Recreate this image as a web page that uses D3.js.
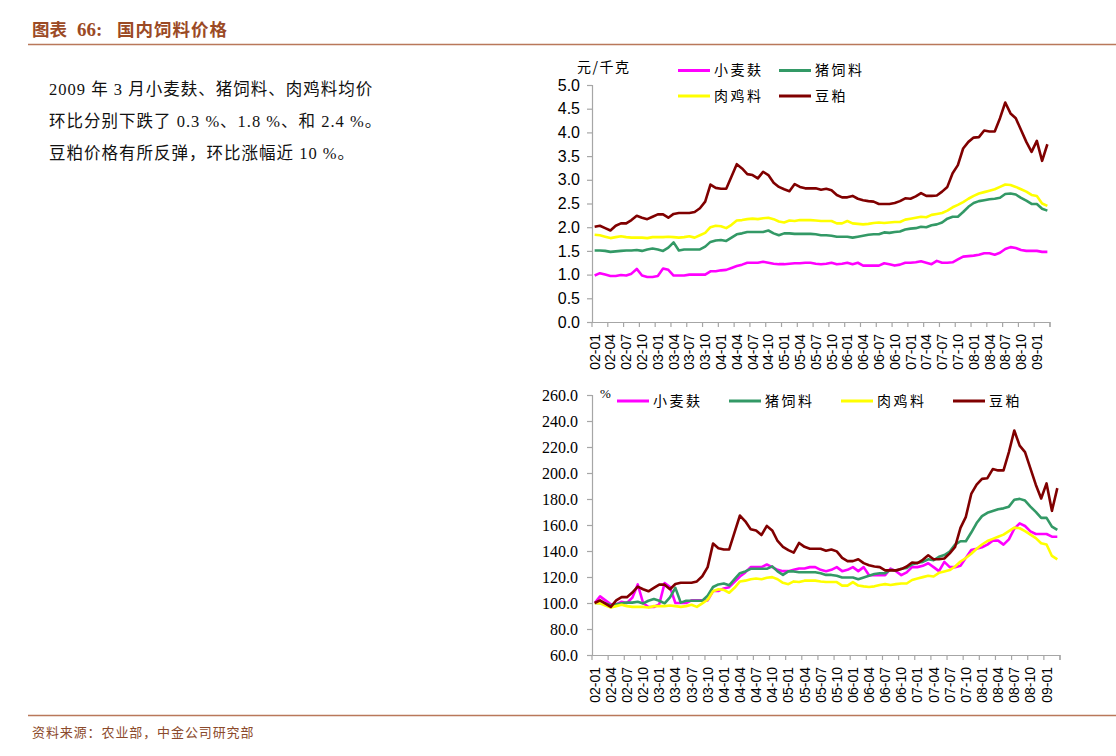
<!DOCTYPE html>
<html><head><meta charset="utf-8">
<script src="https://cdn.jsdelivr.net/npm/d3@7"></script>
<style>body{margin:0;background:#fff;} svg{display:block}</style>
</head><body>
<svg id="c" width="1116" height="756"></svg>
<script>
// ---------------- DATA ----------------
const nMonths = 87; // 2002-01 .. 2009-03
const months = d3.range(nMonths).map(i => {
  const y = 2 + Math.floor(i / 12), m = i % 12 + 1;
  return String(y).padStart(2, "0") + "-" + String(m).padStart(2, "0");
});
const tickLabels = ["02-01","02-04","02-07","02-10","03-01","03-04","03-07","03-10","04-01","04-04","04-07","04-10",
  "05-01","05-04","05-07","05-10","06-01","06-04","06-07","06-10","07-01","07-04","07-07","07-10","08-01","08-04","08-07","08-10","09-01"];
const seriesNames = ["小麦麸", "猪饲料", "肉鸡料", "豆粕"];
const priceTicks = [0,0.5,1,1.5,2,2.5,3,3.5,4,4.5,5];
const indexTicks = [60,80,100,120,140,160,180,200,220,240,260];

// 元/千克
const priceBran = [0.98,1.03,1.00,0.97,0.97,0.99,0.98,1.02,1.12,0.98,0.95,0.95,0.97,1.13,1.10,0.98,0.98,0.98,1.00,1.00,
  1.00,1.00,1.07,1.07,1.09,1.10,1.14,1.18,1.21,1.25,1.25,1.25,1.27,1.25,1.23,1.22,1.22,1.23,1.24,1.24,
  1.25,1.25,1.23,1.22,1.23,1.25,1.22,1.23,1.25,1.22,1.25,1.19,1.19,1.19,1.19,1.24,1.22,1.19,1.21,1.25,
  1.25,1.26,1.28,1.25,1.22,1.29,1.25,1.25,1.26,1.32,1.38,1.39,1.40,1.42,1.45,1.45,1.42,1.46,1.54,1.58,
  1.56,1.52,1.50,1.50,1.50,1.48,1.48];
const priceHog = [1.51,1.51,1.50,1.48,1.49,1.50,1.51,1.51,1.52,1.50,1.53,1.55,1.53,1.50,1.57,1.68,1.51,1.53,1.53,1.53,
  1.53,1.59,1.69,1.72,1.73,1.71,1.78,1.85,1.87,1.90,1.90,1.90,1.90,1.93,1.87,1.83,1.87,1.87,1.86,1.86,
  1.86,1.86,1.85,1.83,1.83,1.82,1.80,1.80,1.80,1.78,1.80,1.82,1.84,1.85,1.85,1.89,1.88,1.90,1.91,1.95,
  1.97,1.98,2.01,2.00,2.04,2.06,2.10,2.18,2.22,2.22,2.32,2.43,2.51,2.55,2.57,2.59,2.60,2.62,2.70,2.71,
  2.69,2.62,2.56,2.49,2.49,2.39,2.35];
const priceBroiler = [1.84,1.83,1.80,1.77,1.79,1.81,1.79,1.78,1.78,1.78,1.77,1.79,1.79,1.79,1.80,1.79,1.78,1.79,1.81,1.78,
  1.83,1.88,2.00,2.03,2.02,1.98,2.05,2.14,2.15,2.17,2.18,2.17,2.19,2.20,2.17,2.12,2.10,2.14,2.13,2.15,
  2.15,2.15,2.14,2.13,2.13,2.13,2.08,2.08,2.13,2.08,2.07,2.06,2.07,2.09,2.10,2.09,2.10,2.11,2.11,2.16,
  2.18,2.20,2.22,2.21,2.26,2.28,2.30,2.35,2.42,2.47,2.53,2.60,2.66,2.71,2.74,2.77,2.80,2.85,2.90,2.89,
  2.85,2.80,2.75,2.68,2.66,2.50,2.45];
const priceMeal = [2.01,2.03,1.98,1.93,2.03,2.08,2.08,2.15,2.24,2.20,2.17,2.22,2.27,2.27,2.20,2.28,2.30,2.30,2.30,2.32,
  2.40,2.54,2.90,2.83,2.81,2.81,3.07,3.33,3.24,3.12,3.10,3.03,3.17,3.10,2.94,2.85,2.80,2.76,2.91,2.85,
  2.82,2.82,2.82,2.79,2.81,2.78,2.68,2.63,2.63,2.66,2.60,2.57,2.55,2.54,2.49,2.49,2.49,2.51,2.55,2.61,
  2.60,2.65,2.72,2.66,2.66,2.67,2.75,2.85,3.14,3.31,3.66,3.80,3.89,3.90,4.04,4.02,4.02,4.30,4.63,4.40,
  4.30,4.05,3.80,3.59,3.82,3.40,3.75];

// %  (2002-01 = 100)
const idxBran = [100,105.1,102.0,99.0,99.0,101.0,100,104.1,114.3,100,96.9,96.9,99.0,115.3,112.2,100,100,100,102.0,102.0,
  102.0,102.0,109.2,109.2,111.2,112.2,116.3,120.4,123.5,127.6,127.6,127.6,129.6,127.6,125.5,124.5,124.5,125.5,126.5,126.5,
  127.6,127.6,125.5,124.5,125.5,127.6,124.5,125.5,127.6,124.5,127.6,121.4,121.4,121.4,121.4,126.5,124.5,121.4,123.5,127.6,
  127.6,128.6,130.6,127.6,124.5,131.6,127.6,127.6,128.6,134.7,140.8,141.8,142.9,144.9,148.0,148.0,144.9,149.0,157.1,161.2,
  159.2,155.1,153.1,153.1,153.1,151.0,151.0];
const idxHog = [100,100.3,99.7,98.3,99.0,99.7,100.3,100.3,101.0,99.7,101.7,103.0,101.7,99.7,104.3,111.6,100.3,101.7,101.7,101.7,
  101.7,105.6,112.3,114.3,115.0,113.6,118.3,122.9,124.3,126.3,126.3,126.3,126.3,128.2,124.3,121.6,124.3,124.3,123.6,123.6,
  123.6,123.6,122.9,121.6,121.6,120.9,119.6,119.6,119.6,118.3,119.6,120.9,122.3,122.9,122.9,125.6,124.9,126.3,126.9,129.6,
  130.9,131.6,133.6,132.9,135.6,136.9,139.5,144.9,147.5,147.5,154.2,161.5,166.8,169.4,170.8,172.1,172.8,174.1,179.4,180.1,
  178.8,174.1,170.1,165.5,165.5,158.8,156.2];
const idxBroiler = [100,99.7,98.1,96.5,97.6,98.6,97.6,97.0,97.0,97.0,96.5,97.6,97.6,97.6,98.1,97.6,97.0,97.6,98.6,97.0,
  99.7,102.5,109.0,110.6,110.1,107.9,111.7,116.6,117.2,118.3,118.8,118.3,119.4,119.9,118.3,115.5,114.5,116.6,116.1,117.2,
  117.2,117.2,116.6,116.1,116.1,116.1,113.4,113.4,116.1,113.4,112.8,112.3,112.8,113.9,114.5,113.9,114.5,115.0,115.0,117.7,
  118.8,119.9,121.0,120.4,123.2,124.3,125.3,128.1,131.9,134.6,137.9,141.7,145.0,147.7,149.3,151.0,152.6,155.3,158.0,157.5,
  155.3,152.6,149.9,146.0,145.0,136.2,133.5];
const idxMeal = [100,102.0,99.5,97.0,102.0,104.5,104.5,108.0,112.6,110.6,109.0,111.6,114.1,114.1,110.6,114.6,115.6,115.6,115.6,116.6,
  120.6,127.6,145.7,142.2,141.2,141.2,154.3,167.3,162.8,156.8,155.8,152.3,159.3,155.8,147.7,143.2,140.7,138.7,146.2,143.2,
  141.7,141.7,141.7,140.2,141.2,139.7,134.7,132.2,132.2,133.7,130.7,129.1,128.1,127.6,125.1,125.1,125.1,126.1,128.1,131.2,
  130.7,133.2,136.7,133.7,133.7,134.2,138.2,143.2,157.8,166.3,183.9,191.0,195.5,196.0,203.0,202.0,202.0,216.1,232.7,221.1,
  216.1,203.5,191.0,180.4,192.0,170.9,188.4];

// ---------------- STYLE ----------------
const colors = ["#ff00ff", "#339966", "#ffff00", "#800000"];
const axisColor = "#a6a6a6";
const brown = "#9b4a25";
const cjk = "'Noto Sans CJK SC', sans-serif";

const svg = d3.select("#c");

// Header
svg.append("text").attr("x", 32).attr("y", 36).attr("fill", brown)
  .attr("font-family", cjk).attr("font-weight", "bold").attr("font-size", 17.5).text("图表");
svg.append("text").attr("x", 77).attr("y", 36).attr("fill", brown)
  .attr("font-family", "'Liberation Serif', serif").attr("font-weight", "bold").attr("font-size", 19).text("66:");
svg.append("text").attr("x", 117).attr("y", 36).attr("fill", brown)
  .attr("font-family", cjk).attr("font-weight", "bold").attr("font-size", 17.5).attr("letter-spacing", 1).text("国内饲料价格");
svg.append("line").attr("x1", 28).attr("x2", 1116).attr("y1", 44.5).attr("y2", 44.5)
  .attr("stroke", "#b9785a").attr("stroke-width", 1.5);

// Paragraph
const para = ["2009 年 3 月小麦麸、猪饲料、肉鸡料均价", "环比分别下跌了 0.3 %、1.8 %、和 2.4 %。", "豆粕价格有所反弹，环比涨幅近 10 %。"];
para.forEach((t, k) => {
  svg.append("text").attr("x", 49).attr("y", 95 + k * 32).attr("fill", "#111")
    .attr("font-family", "'Liberation Serif', 'Noto Sans CJK SC', serif").attr("font-size", 16.5)
    .attr("letter-spacing", 1).text(t);
});

// Footer
svg.append("line").attr("x1", 28).attr("x2", 1116).attr("y1", 715.5).attr("y2", 715.5)
  .attr("stroke", "#b9785a").attr("stroke-width", 1.5);
svg.append("text").attr("x", 32).attr("y", 737).attr("fill", "#8b4a2b")
  .attr("font-family", cjk).attr("font-size", 13).attr("letter-spacing", 0.9).text("资料来源：农业部，中金公司研究部");

// ---------------- CHART FACTORY ----------------
function drawChart(opt) {
  const g = svg.append("g");
  const x = d3.scaleBand().domain(months).range([opt.x0, opt.x1]).paddingInner(0).paddingOuter(0);
  const y = d3.scaleLinear().domain(opt.yDomain).range([opt.yBottom, opt.yTop]);
  const bw = x.bandwidth();

  // y axis
  const yAxis = d3.axisLeft(y).tickValues(opt.yTicks).tickSize(5).tickPadding(7).tickFormat(d3.format(".1f"));
  const ga = g.append("g").attr("transform", `translate(${opt.x0},0)`).call(yAxis);
  ga.select(".domain").attr("stroke", axisColor).attr("stroke-width", 1.2);
  ga.selectAll(".tick line").attr("stroke", axisColor).attr("stroke-width", 1.2);
  ga.selectAll(".tick text").attr("font-family", opt.yFont).attr("font-size", 16).attr("fill", "#000")
    .attr("x", -opt.yLabelGap);

  // x axis line
  g.append("line").attr("x1", opt.x0).attr("x2", opt.x1).attr("y1", opt.yBottom + 0.5).attr("y2", opt.yBottom + 0.5)
    .attr("stroke", axisColor).attr("stroke-width", 1.2);
  const tickIdx = d3.range(0, nMonths + 1, 3).concat([nMonths]);
  g.selectAll(".xt").data(tickIdx).join("line")
    .attr("x1", i => opt.x0 + i * bw).attr("x2", i => opt.x0 + i * bw)
    .attr("y1", opt.yBottom).attr("y2", opt.yBottom + 5)
    .attr("stroke", axisColor).attr("stroke-width", 1.2);
  g.selectAll(".xl").data(tickLabels).join("text")
    .attr("transform", d => `translate(${x(d) + bw / 2},${opt.yBottom + 12}) rotate(-90)`)
    .attr("text-anchor", "end").attr("dy", "0.36em")
    .attr("font-family", "'Liberation Sans', Arial, sans-serif").attr("font-size", 14).attr("fill", "#000")
    .text(d => d);

  // lines
  const line = d3.line().x((d, i) => x(months[i]) + bw / 2).y(d => y(d)).curve(d3.curveLinear);
  opt.series.forEach((s, k) => {
    g.append("path").datum(s).attr("d", line).attr("fill", "none")
      .attr("stroke", colors[k]).attr("stroke-width", 2.6).attr("stroke-linejoin", "round");
  });

  // legend
  opt.legend.forEach((p, k) => {
    g.append("line").attr("x1", p[0]).attr("x2", p[0] + 32).attr("y1", p[1]).attr("y2", p[1])
      .attr("stroke", colors[k]).attr("stroke-width", 3);
    g.append("text").attr("x", p[0] + 36).attr("y", p[1]).attr("dy", "0.35em")
      .attr("font-family", cjk).attr("font-size", 14).attr("letter-spacing", 2.5).attr("fill", "#000")
      .text(seriesNames[k]);
  });
  return g;
}

drawChart({
  x0: 592, x1: 1050, yTop: 85, yBottom: 322, yDomain: [0, 5], yTicks: priceTicks,
  yFont: "'Liberation Sans', Arial, sans-serif", yLabelGap: 12,
  series: [priceBran, priceHog, priceBroiler, priceMeal],
  legend: [[678, 70.5], [779, 70.5], [678, 96], [779, 96]]
});
svg.append("text").attr("x", 577).attr("y", 67).attr("dy", "0.35em")
  .attr("font-family", cjk).attr("font-size", 14).attr("letter-spacing", 1.5).attr("fill", "#000").text("元/千克");

drawChart({
  x0: 592, x1: 1060, yTop: 395, yBottom: 655, yDomain: [60, 260], yTicks: indexTicks,
  yFont: "'Liberation Serif', 'Times New Roman', serif", yLabelGap: 14,
  series: [idxBran, idxHog, idxBroiler, idxMeal],
  legend: [[617, 401], [729, 401], [841, 401], [953, 401]]
});
svg.append("text").attr("x", 600).attr("y", 393).attr("dy", "0.35em")
  .attr("font-family", "'Liberation Serif', serif").attr("font-size", 13).attr("fill", "#000").text("%");
</script>
</body></html>
